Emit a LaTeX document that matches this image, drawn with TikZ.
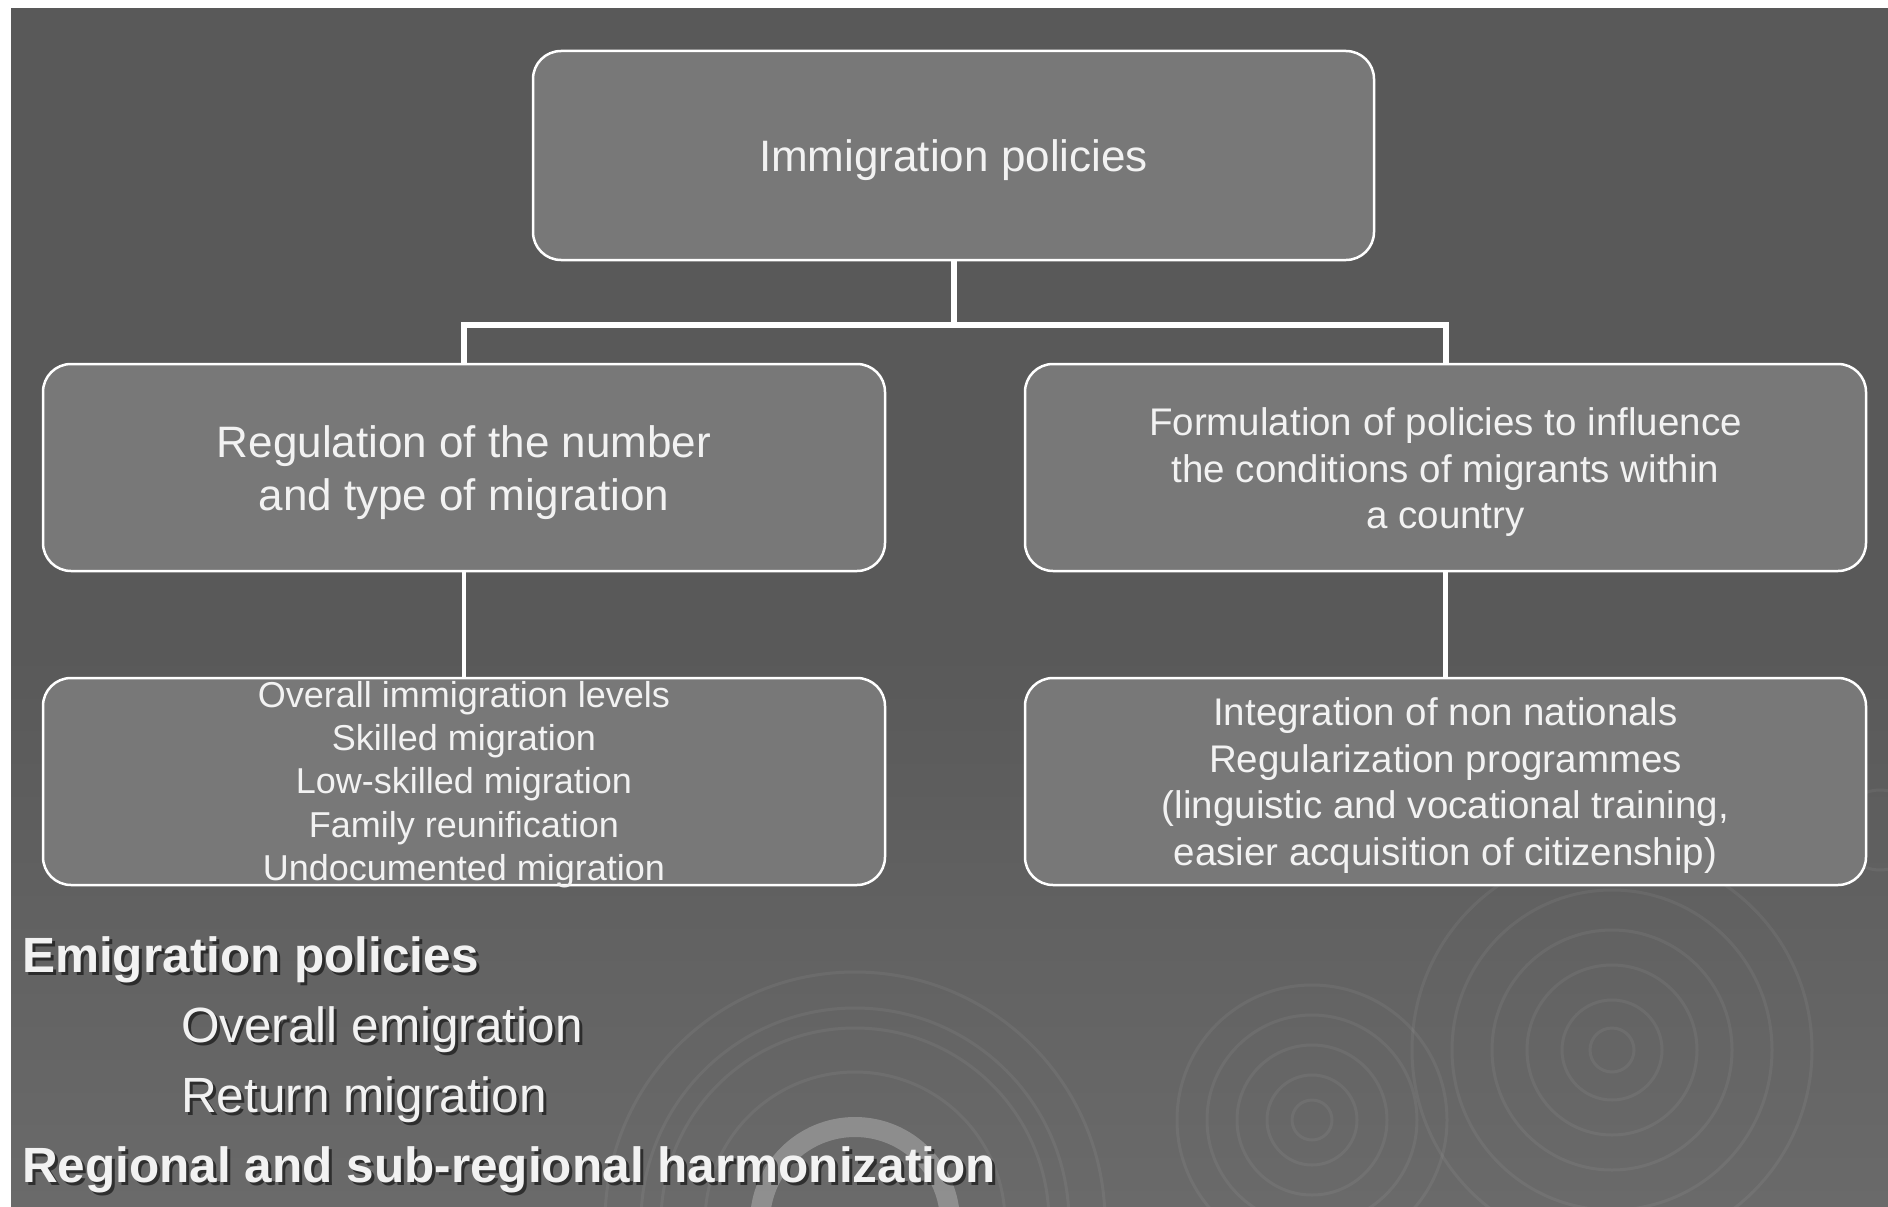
\documentclass[tikz,border=0pt]{standalone}
\usepackage{fontspec}
\setmainfont{Liberation Sans}
\definecolor{bgtop}{HTML}{595959}
\definecolor{bgbot}{HTML}{6A6A6A}
\definecolor{boxfill}{HTML}{787878}
\definecolor{txt}{HTML}{F2F2F2}
\tikzset{
  box/.style={rectangle, rounded corners=28pt, draw=white, line width=2.5pt, fill=boxfill, inner sep=0pt},
  boxtxt/.style={text=txt, align=center, inner sep=0pt},
  conn/.style={draw=white, line width=6pt},
  connb/.style={draw=white, line width=4.5pt},
  ring/.style={draw=white, draw opacity=0.055, line width=3pt},
  bigtxt/.style={anchor=base west, inner sep=0pt, text=txt, font=\fontsize{49.5}{58}\selectfont},
  shadowtxt/.style={anchor=base west, inner sep=0pt, text=black, text opacity=0.55, font=\fontsize{49.5}{58}\selectfont}
}
\begin{document}
\begin{tikzpicture}[x=1pt,y=-1pt]
\useasboundingbox (0,0) rectangle (1888,1207);
\fill[white] (0,0) rectangle (1888,1207);
\fill[bgtop] (11,8) rectangle (1888,650);
\shade[top color=bgtop, bottom color=bgbot] (11,649) rectangle (1888,1207);
% decorative rings
\begin{scope}
\clip (11,8) rectangle (1888,1207);
\foreach \r in {22,50,85,120,160,200}{\draw[ring] (1612,1050) circle[radius=\r];}
\foreach \r in {20,45,75,105,135}{\draw[ring] (1312,1120) circle[radius=\r];}
\foreach \r in {150,194,214,250}{\draw[ring] (855,1222) circle[radius=\r];}
\draw[draw=white, draw opacity=0.25, line width=20pt] (855,1222) circle[radius=95];
\draw[ring] (1880,830) circle[radius=40];
\end{scope}
% boxes
\node[box, minimum width=841pt, minimum height=209pt] (top) at (953.5,155.5) {};
\node[box, minimum width=842pt, minimum height=207pt] (midL) at (464,467.5) {};
\node[box, minimum width=841pt, minimum height=207pt] (midR) at (1445.5,467.5) {};
\node[box, minimum width=842pt, minimum height=207pt] (botL) at (464,781.5) {};
\node[box, minimum width=841pt, minimum height=207pt] (botR) at (1445.5,781.5) {};
% box texts
\node[boxtxt, font=\fontsize{44}{53}\selectfont] (topT) at ([yshift=-5pt]top.center) {Immigration policies};
\node[boxtxt, font=\fontsize{44}{53}\selectfont] (midLT) at ([yshift=-5pt]midL.center) {Regulation of the number\\and type of migration};
\node[boxtxt, font=\fontsize{38.5}{46.5}\selectfont] (midRT) at ([yshift=-5pt]midR.center) {Formulation of policies to influence\\the conditions of migrants within\\a country};
\node[boxtxt, font=\fontsize{36}{43.3}\selectfont] (botLT) at ([yshift=-3pt]botL.center) {Overall immigration levels\\Skilled migration\\Low-skilled migration\\Family reunification\\Undocumented migration};
\node[boxtxt, font=\fontsize{38.5}{46.5}\selectfont] (botRT) at ([yshift=-4pt]botR.center) {Integration of non nationals\\Regularization programmes\\(linguistic and vocational training,\\easier acquisition of citizenship)};
% connectors
\coordinate (split) at (953.5,325);
\draw[conn] (top.south) -- (split) -| (midL.north);
\draw[conn] (split) -| (midR.north);
\draw[connb] (midL.south) -- (botL.north);
\draw[connb] (midR.south) -- (botR.north);
% lower texts
\node[shadowtxt] at (25,975) {\bfseries Emigration policies};
\node[bigtxt] (emig) at (22,972) {\bfseries Emigration policies};
\node[shadowtxt] at (184,1045) {Overall emigration};
\node[bigtxt] (overall) at (181,1042) {Overall emigration};
\node[shadowtxt] at (184,1115) {Return migration};
\node[bigtxt] (ret) at (181,1112) {Return migration};
\node[shadowtxt] at (25,1185) {\bfseries Regional and sub-regional harmonization};
\node[bigtxt] (reg) at (22,1182) {\bfseries Regional and sub-regional harmonization};
\end{tikzpicture}
\end{document}
